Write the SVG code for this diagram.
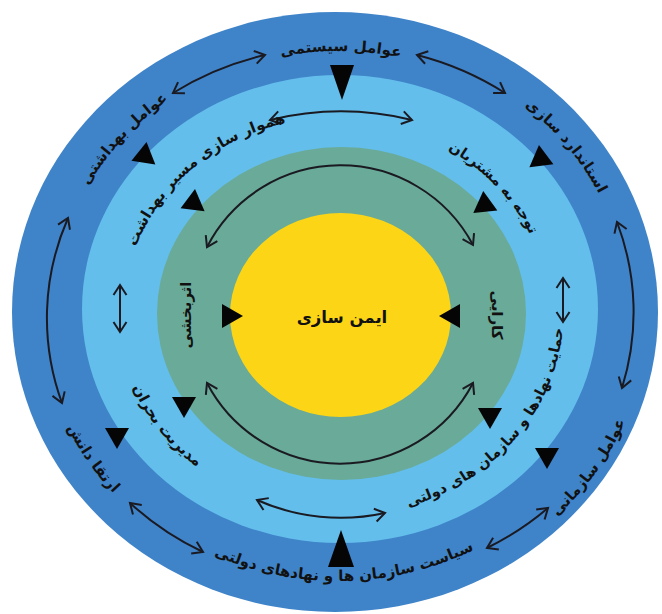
<svg xmlns="http://www.w3.org/2000/svg" width="662" height="614" viewBox="0 0 662 614">
<style>
.lbl{font-family:"DejaVu Sans",sans-serif;font-weight:bold;font-size:15px;fill:#111;}
.sm{font-size:14.5px;}
.ctr{font-family:"DejaVu Sans",sans-serif;font-weight:bold;font-size:16.5px;fill:#111;}
.arr{fill:none;stroke:#1a1a22;stroke-width:2;marker-start:url(#ah);marker-end:url(#ah);}
.tri{fill:#050505;}
</style>
<defs>
<marker id="ah" markerUnits="userSpaceOnUse" markerWidth="16" markerHeight="16" viewBox="0 0 16 16" refX="13" refY="8" orient="auto-start-reverse">
<path d="M3,1.5 L13,8 L3,14.5" fill="none" stroke="#1a1a22" stroke-width="2"/>
</marker>
<polygon id="triR" points="-9,-12 -9,12 12,0"/>
<polygon id="triD" points="-12,-9 12,-9 0,12"/>
<path id="p1" d="M108.8,160.1 A281.9,261 0 0 1 570.6,164.5"/>
<path id="p2" d="M329.4,43.1 A290.4,269 0 0 1 613.7,396.5"/>
<path id="p6" d="M63.3,381.6 A284.8,263.7 0 0 1 361.3,49.2"/>
<path id="p4" d="M90.1,452.1 A290.5,269 0 0 0 593.1,440.8"/>
<path id="p3" d="M351.5,599.4 A310.7,287.7 0 0 0 625.1,201.9"/>
<path id="p5" d="M64.6,202.5 A297.9,275.8 0 0 0 320.3,587.3"/>
<path id="pa" d="M125.9,340.8 A214.5,195 0 0 1 380.8,120.9"/>
<path id="pb" d="M321.2,121.7 A210,190.9 0 0 1 540.5,362.7"/>
<path id="pc" d="M310.5,515.5 A225.5,205 0 0 0 545.6,231.9"/>
<path id="pd" d="M138.4,225.1 A221.3,201.2 0 0 0 355,512.6"/>
</defs>

<g id="ring-outer">
<ellipse cx="335" cy="312" rx="323" ry="300" fill="#3f83c9"/>
</g>
<g id="ring-light">
<ellipse cx="340" cy="309" rx="258" ry="234" fill="#63beeb"/>
</g>
<g id="ring-green">
<ellipse cx="341.5" cy="313.5" rx="184.5" ry="166.5" fill="#6aaa98"/>
</g>
<g id="core">
<ellipse cx="340.5" cy="315" rx="110.5" ry="102" fill="#fcd616"/>
<text class="ctr" x="342" y="323" text-anchor="middle">ایمن سازی</text>
</g>

<g id="connectors">
<path class="arr" d="M173,93 A292,268 0 0 1 265,55"/>
<path class="arr" d="M417,55 A292,268 0 0 1 505,93"/>
<path class="arr" d="M617,222 A300,275 0 0 1 622,388"/>
<path class="arr" d="M487,548 A292,268 0 0 0 548,508"/>
<path class="arr" d="M130,503 A292,268 0 0 0 203,552"/>
<path class="arr" d="M68,218 A292,268 0 0 0 62,403"/>
<path class="arr" d="M270,120 A300,300 0 0 1 412,120"/>
<path class="arr" d="M120,285 L120,332"/>
<path class="arr" d="M563,278 L563,322"/>
<path class="arr" d="M257,500 A206,206 0 0 0 385,513"/>
<path class="arr" d="M207,247 A150,150 0 0 1 473,245"/>
<path class="arr" d="M207,383 A150,150 0 0 0 473,383"/>
<polygon class="tri" points="330,65 354,65 342,100"/>
<polygon class="tri" points="328,567 354,567 341,530"/>
<use href="#triR" class="tri" transform="translate(146,157) rotate(39)"/>
<use href="#triR" class="tri" transform="translate(195,204) rotate(37)"/>
<use href="#triR" class="tri" transform="translate(539,160) rotate(143)"/>
<use href="#triR" class="tri" transform="translate(483,206) rotate(144)"/>
<use href="#triR" class="tri" transform="translate(231,316)"/>
<use href="#triR" class="tri" transform="translate(451,316) rotate(180)"/>
<use href="#triD" class="tri" transform="translate(184,406)"/>
<use href="#triD" class="tri" transform="translate(117,437)"/>
<use href="#triD" class="tri" transform="translate(490,417)"/>
<use href="#triD" class="tri" transform="translate(547,457)"/>
</g>

<g id="outer-labels">
<text class="lbl"><textPath href="#p1" startOffset="50%" text-anchor="middle">عوامل سیستمی</textPath></text>
<text class="lbl"><textPath href="#p2" startOffset="50%" text-anchor="middle">استاندارد سازی</textPath></text>
<text class="lbl"><textPath href="#p3" startOffset="50%" text-anchor="middle">عوامل سازمانی</textPath></text>
<text class="lbl"><textPath href="#p4" startOffset="50%" text-anchor="middle">سیاست سازمان ها و نهادهای دولتی</textPath></text>
<text class="lbl"><textPath href="#p5" startOffset="50%" text-anchor="middle">ارتقا دانش</textPath></text>
<text class="lbl"><textPath href="#p6" startOffset="50%" text-anchor="middle">عوامل بهداشتی</textPath></text>
</g>
<g id="middle-labels">
<text class="lbl"><textPath href="#pa" startOffset="50%" text-anchor="middle">هموار سازی مسیر بهداشت</textPath></text>
<text class="lbl sm"><textPath href="#pb" startOffset="50%" text-anchor="middle">توجه به مشتریان</textPath></text>
<text class="lbl sm"><textPath href="#pc" startOffset="50%" text-anchor="middle">حمایت نهادها و سازمان های دولتی</textPath></text>
<text class="lbl"><textPath href="#pd" startOffset="50%" text-anchor="middle">مدیریت بحران</textPath></text>
</g>
<g id="inner-labels">
<text class="lbl" text-anchor="middle" transform="translate(191,315) rotate(-90)">اثربخشی</text>
<text class="lbl" text-anchor="middle" transform="translate(492,315) rotate(90)">کارایی</text>
</g>
</svg>
